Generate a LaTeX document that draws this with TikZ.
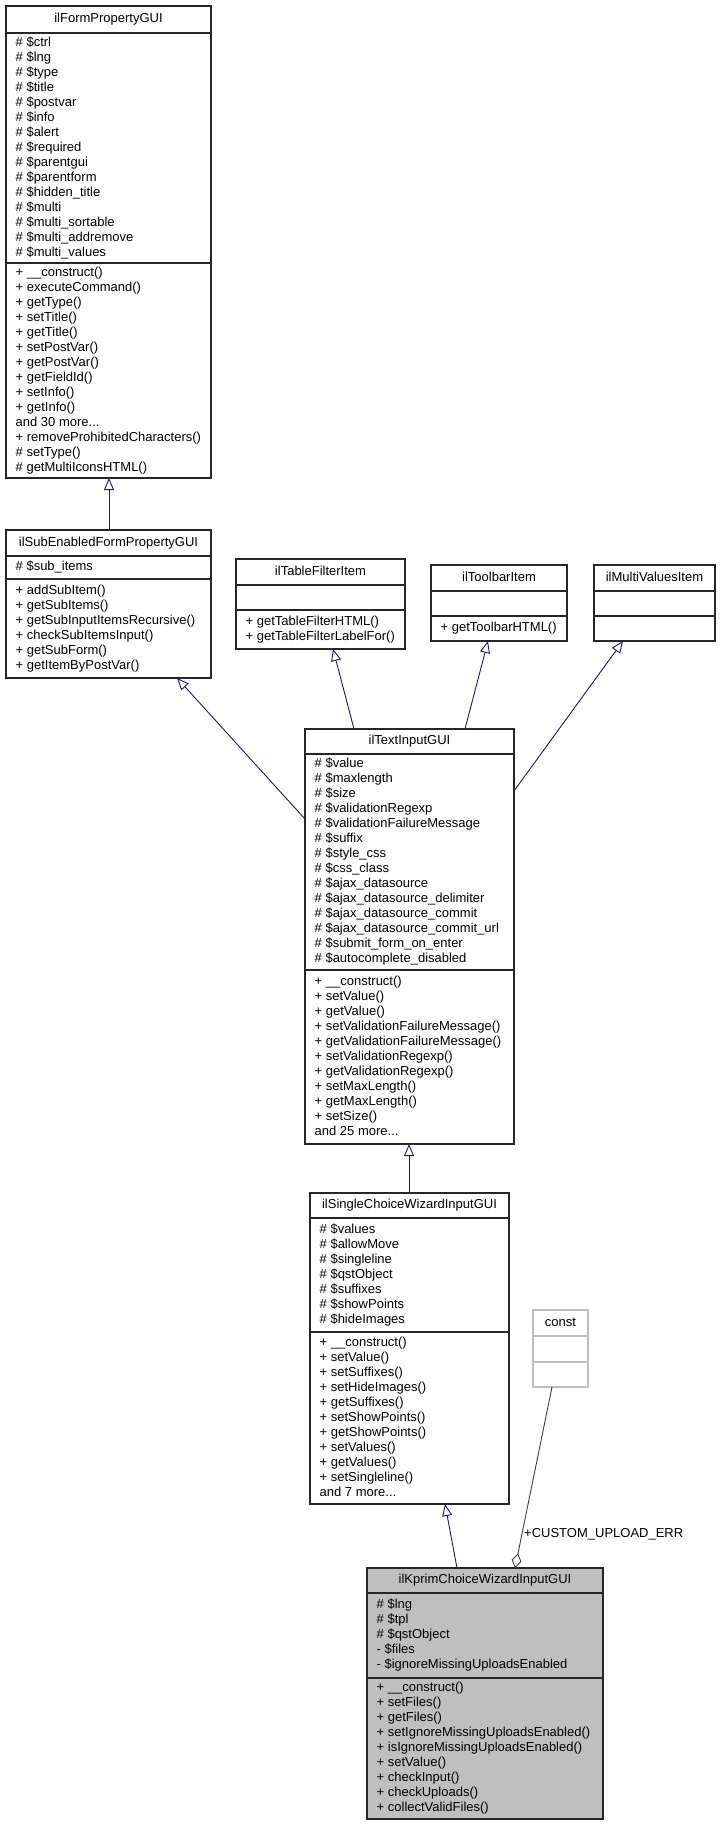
\documentclass[tikz,border=0pt]{standalone}
\usepackage{fontspec}
\setmainfont{Liberation Sans}
\usetikzlibrary{arrows.meta,calc}
\definecolor{edgeblue}{HTML}{191970}
\definecolor{greyseventyfive}{HTML}{BFBFBF}
\definecolor{greytwentyfive}{HTML}{404040}
\newcommand\ml[1]{\strut #1}
\tikzset{
 cls/.style={draw=black!85, line width=1.1pt, fill=white, inner sep=0pt, outer sep=0pt, anchor=north west},
 sepline/.style={draw=black!85, line width=1.1pt},
 constbox/.style={draw=greyseventyfive},
 kprimbox/.style={fill=greyseventyfive},
 plainbox/.style={},
 ttl/.style={font=\fontsize{13}{15}\selectfont, inner sep=0pt, text height=9.5pt, text depth=2.8pt},
 mem/.style={font=\fontsize{13}{15}\selectfont, inner sep=0pt, align=left, anchor=west},
 lbl/.style={font=\fontsize{13}{15}\selectfont, inner sep=0pt, anchor=west},
 inherit/.style={draw=edgeblue, line width=0.9pt, -{Triangle[open, length=12pt, width=10pt, line width=0.9pt]}},
 usage/.style={draw=greytwentyfive, line width=0.9pt, -{Diamond[open, length=15pt, width=10pt, line width=0.9pt]}},
}
\newcommand\umlbox[8]{%
  \node[cls,#8,minimum width={(#4-#2)*1pt}, minimum height={(#7-#3)*1pt}] (#1) at (#2,#3) {};
  \draw[sepline,#8] (#2,#5) -- (#4,#5);
  \draw[sepline,#8] (#2,#6) -- (#4,#6);
}
\begin{document}
\begin{tikzpicture}[x=1pt,y=-1pt]
\useasboundingbox (0,0) rectangle (721,1825);

% ---------- ilFormPropertyGUI
\umlbox{fp}{6}{6}{211}{33}{263}{478}{plainbox}
\node[ttl] (fp-t) at (108.5,19.5) {ilFormPropertyGUI};
\node[mem] (fp-a) at (15.5,148) {\ml{\# \$ctrl}\\\ml{\# \$lng}\\\ml{\# \$type}\\\ml{\# \$title}\\\ml{\# \$postvar}\\\ml{\# \$info}\\\ml{\# \$alert}\\\ml{\# \$required}\\\ml{\# \$parentgui}\\\ml{\# \$parentform}\\\ml{\# \$hidden\_title}\\\ml{\# \$multi}\\\ml{\# \$multi\_sortable}\\\ml{\# \$multi\_addremove}\\\ml{\# \$multi\_values}};
\node[mem] (fp-m) at (15.5,370.5) {\ml{+ \_\_construct()}\\\ml{+ executeCommand()}\\\ml{+ getType()}\\\ml{+ setTitle()}\\\ml{+ getTitle()}\\\ml{+ setPostVar()}\\\ml{+ getPostVar()}\\\ml{+ getFieldId()}\\\ml{+ setInfo()}\\\ml{+ getInfo()}\\\ml{and 30 more...}\\\ml{+ removeProhibitedCharacters()}\\\ml{\# setType()}\\\ml{\# getMultiIconsHTML()}};

% ---------- ilSubEnabledFormPropertyGUI
\umlbox{sub}{6}{530}{211}{556}{579}{678}{plainbox}
\node[ttl] (sub-t) at (108.5,543) {ilSubEnabledFormPropertyGUI};
\node[mem] (sub-a) at (15.5,567.5) {\ml{\# \$sub\_items}};
\node[mem] (sub-m) at (15.5,628.5) {\ml{+ addSubItem()}\\\ml{+ getSubItems()}\\\ml{+ getSubInputItemsRecursive()}\\\ml{+ checkSubItemsInput()}\\\ml{+ getSubForm()}\\\ml{+ getItemByPostVar()}};

% ---------- ilTableFilterItem
\umlbox{tfi}{236}{559}{405}{585}{610}{649}{plainbox}
\node[ttl] (tfi-t) at (320.5,572) {ilTableFilterItem};
\node[mem] (tfi-m) at (245.5,629.5) {\ml{+ getTableFilterHTML()}\\\ml{+ getTableFilterLabelFor()}};

% ---------- ilToolbarItem
\umlbox{tb}{431}{565}{567}{591}{616}{641}{plainbox}
\node[ttl] (tb-t) at (499,578) {ilToolbarItem};
\node[mem] (tb-m) at (440.5,628.5) {\ml{+ getToolbarHTML()}};

% ---------- ilMultiValuesItem
\umlbox{mv}{594}{565}{715}{591}{616}{641}{plainbox}
\node[ttl] (mv-t) at (654.5,578) {ilMultiValuesItem};

% ---------- ilTextInputGUI
\umlbox{tig}{305}{729}{514}{754}{970}{1144}{plainbox}
\node[ttl] (tig-t) at (409.5,741.5) {ilTextInputGUI};
\node[mem] (tig-a) at (314.5,862) {\ml{\# \$value}\\\ml{\# \$maxlength}\\\ml{\# \$size}\\\ml{\# \$validationRegexp}\\\ml{\# \$validationFailureMessage}\\\ml{\# \$suffix}\\\ml{\# \$style\_css}\\\ml{\# \$css\_class}\\\ml{\# \$ajax\_datasource}\\\ml{\# \$ajax\_datasource\_delimiter}\\\ml{\# \$ajax\_datasource\_commit}\\\ml{\# \$ajax\_datasource\_commit\_url}\\\ml{\# \$submit\_form\_on\_enter}\\\ml{\# \$autocomplete\_disabled}};
\node[mem] (tig-m) at (314.5,1057) {\ml{+ \_\_construct()}\\\ml{+ setValue()}\\\ml{+ getValue()}\\\ml{+ setValidationFailureMessage()}\\\ml{+ getValidationFailureMessage()}\\\ml{+ setValidationRegexp()}\\\ml{+ getValidationRegexp()}\\\ml{+ setMaxLength()}\\\ml{+ getMaxLength()}\\\ml{+ setSize()}\\\ml{and 25 more...}};

% ---------- ilSingleChoiceWizardInputGUI
\umlbox{sc}{310}{1193}{509}{1218}{1332}{1504}{plainbox}
\node[ttl] (sc-t) at (409.5,1205.5) {ilSingleChoiceWizardInputGUI};
\node[mem] (sc-a) at (319.5,1275) {\ml{\# \$values}\\\ml{\# \$allowMove}\\\ml{\# \$singleline}\\\ml{\# \$qstObject}\\\ml{\# \$suffixes}\\\ml{\# \$showPoints}\\\ml{\# \$hideImages}};
\node[mem] (sc-m) at (319.5,1418) {\ml{+ \_\_construct()}\\\ml{+ setValue()}\\\ml{+ setSuffixes()}\\\ml{+ setHideImages()}\\\ml{+ getSuffixes()}\\\ml{+ setShowPoints()}\\\ml{+ getShowPoints()}\\\ml{+ setValues()}\\\ml{+ getValues()}\\\ml{+ setSingleline()}\\\ml{and 7 more...}};

% ---------- const
\umlbox{cst}{533}{1310}{588}{1336}{1362}{1387}{constbox}
\node[ttl] (cst-t) at (560.5,1323) {const};

% ---------- ilKprimChoiceWizardInputGUI
\umlbox{kp}{367}{1568}{603}{1593}{1678}{1819}{kprimbox}
\node[ttl] (kp-t) at (485,1580.5) {ilKprimChoiceWizardInputGUI};
\node[mem] (kp-a) at (376.5,1635.5) {\ml{\# \$lng}\\\ml{\# \$tpl}\\\ml{\# \$qstObject}\\\ml{- \$files}\\\ml{- \$ignoreMissingUploadsEnabled}};
\node[mem] (kp-m) at (376.5,1748.5) {\ml{+ \_\_construct()}\\\ml{+ setFiles()}\\\ml{+ getFiles()}\\\ml{+ setIgnoreMissingUploadsEnabled()}\\\ml{+ isIgnoreMissingUploadsEnabled()}\\\ml{+ setValue()}\\\ml{+ checkInput()}\\\ml{+ checkUploads()}\\\ml{+ collectValidFiles()}};

% ---------- connectors
\draw[inherit] ($(sub.north west)+(103,0)$) -- ($(fp.south west)+(103,0)$);
\draw[inherit] ($(tig.north west)+(0,90)$) -- ($(sub.south west)+(171,0)$);
\draw[inherit] ($(tig.north west)+(49,0)$) -- ($(tfi.south west)+(97,0)$);
\draw[inherit] ($(tig.north west)+(160,0)$) -- ($(tb.south west)+(57,0)$);
\draw[inherit] ($(tig.north east)+(0,62)$) -- ($(mv.south west)+(29,0)$);
\draw[inherit] ($(sc.north west)+(99,0)$) -- ($(tig.south west)+(104,0)$);
\draw[inherit] ($(kp.north west)+(90,0)$) -- ($(sc.south west)+(135,0)$);
\draw[usage] ($(cst.south west)+(19,0)$) -- ($(kp.north west)+(148,0)$);
\node[lbl] (uplabel) at (524,1534) {+CUSTOM\_UPLOAD\_ERR};
\end{tikzpicture}
\end{document}
